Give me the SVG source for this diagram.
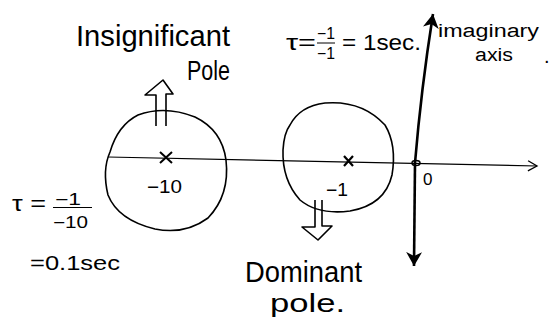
<svg xmlns="http://www.w3.org/2000/svg" width="552" height="322" viewBox="0 0 552 322">
<style>
text{font-family:"Liberation Sans",Arial,sans-serif;fill:#000}
.c{fill:none;stroke:#000;stroke-width:1.6}
.ax{fill:none;stroke:#000;stroke-width:1.2}
.vax{fill:none;stroke:#000;stroke-width:2.6}
.ho{fill:#fff;stroke:#000;stroke-width:1.6;stroke-linejoin:round}
</style>
<defs>
<marker id="openArr" markerWidth="12" markerHeight="12" refX="10" refY="6" orient="auto" markerUnits="userSpaceOnUse">
<path d="M1,1 L10,6 L1,11" fill="none" stroke="#000" stroke-width="1.3"/>
</marker>
<marker id="fillArr" markerWidth="16" markerHeight="18" refX="14" refY="8" orient="auto" markerUnits="userSpaceOnUse">
<path d="M0,0 L14,8 L0,16 L4,8 Z" fill="#000"/>
</marker>
</defs>
<rect width="552" height="322" fill="#fff"/>
<g id="connectors">
<path id="real-axis" class="ax" d="M108,157 L537,166" marker-end="url(#openArr)"/>
<path id="imag-axis-up" class="vax" d="M415,163 Q421,90 433,14" marker-end="url(#fillArr)"/>
<path id="imag-axis-down" class="vax" d="M415,163 L414,266" marker-end="url(#fillArr)"/>
<g id="insig-arrow">
<path class="ho" d="M156,126 L156,95 L145,95 L163,80 L173,94 L166,94 L166,126"/>
</g>
<g id="dom-arrow">
<path class="ho" d="M315,200 L315,227 L302,227 L318,240 L332,226 L322,226 L322,200"/>
</g>
</g>
<g id="pole-insignificant">
<path class="c" d="M110,152 Q118,125 138,115 Q165,105 195,117 Q222,130 226,160 Q230,195 208,218 Q185,235 155,229 Q118,220 108,195 Q102,170 110,152 Z"/>
<path d="M160,152 L172,163 M172,152 L160,163" stroke="#000" stroke-width="2"/>
<text x="147" y="193" font-size="18" textLength="35" lengthAdjust="spacingAndGlyphs">−10</text>
</g>
<g id="pole-dominant">
<path class="c" d="M290,125 Q300,106 325,103 Q362,100 385,125 Q397,145 392,175 Q385,205 350,211 Q318,215 300,200 Q282,180 283,150 Q284,133 290,125 Z"/>
<path d="M344,156 L353,166 M353,156 L344,166" stroke="#000" stroke-width="2.2"/>
<text x="326" y="196" font-size="18" textLength="22" lengthAdjust="spacingAndGlyphs">−1</text>
</g>
<g id="origin">
<ellipse cx="416" cy="163" rx="4" ry="2.5" fill="none" stroke="#000" stroke-width="1.5"/>
<text x="423" y="185" font-size="17">0</text>
</g>
<g id="label-insignificant">
<text x="76" y="46" font-size="30" textLength="154" lengthAdjust="spacingAndGlyphs">Insignificant</text>
<text x="187" y="80" font-size="28" textLength="43" lengthAdjust="spacingAndGlyphs">Pole</text>
</g>
<g id="label-tau-1">
<text x="286" y="50" font-size="22" textLength="30" lengthAdjust="spacingAndGlyphs">τ=</text>
<text x="317" y="39" font-size="16" textLength="18" lengthAdjust="spacingAndGlyphs">−1</text>
<line x1="317" y1="43" x2="335" y2="43" stroke="#000" stroke-width="1"/>
<text x="317" y="59" font-size="16" textLength="18" lengthAdjust="spacingAndGlyphs">−1</text>
<text x="342" y="50" font-size="22" textLength="79" lengthAdjust="spacingAndGlyphs">= 1sec.</text>
</g>
<g id="label-imag">
<text x="438" y="37" font-size="18" textLength="101" lengthAdjust="spacingAndGlyphs">imaginary</text>
<text x="475" y="61" font-size="18" textLength="38" lengthAdjust="spacingAndGlyphs">axis</text>
<text x="544" y="63" font-size="20">.</text>
</g>
<g id="label-tau-10">
<text x="12" y="211" font-size="22" textLength="34" lengthAdjust="spacingAndGlyphs">τ =</text>
<text x="55" y="205" font-size="16" textLength="26" lengthAdjust="spacingAndGlyphs">−1</text>
<line x1="53" y1="207.5" x2="92" y2="207.5" stroke="#000" stroke-width="1"/>
<text x="53" y="228" font-size="16" textLength="35" lengthAdjust="spacingAndGlyphs">−10</text>
<text x="30" y="270" font-size="20" textLength="90" lengthAdjust="spacingAndGlyphs">=0.1sec</text>
</g>
<g id="label-dominant">
<text x="245" y="282" font-size="30" textLength="117" lengthAdjust="spacingAndGlyphs">Dominant</text>
<text x="270" y="312" font-size="26" textLength="75" lengthAdjust="spacingAndGlyphs">pole.</text>
</g>
</svg>
